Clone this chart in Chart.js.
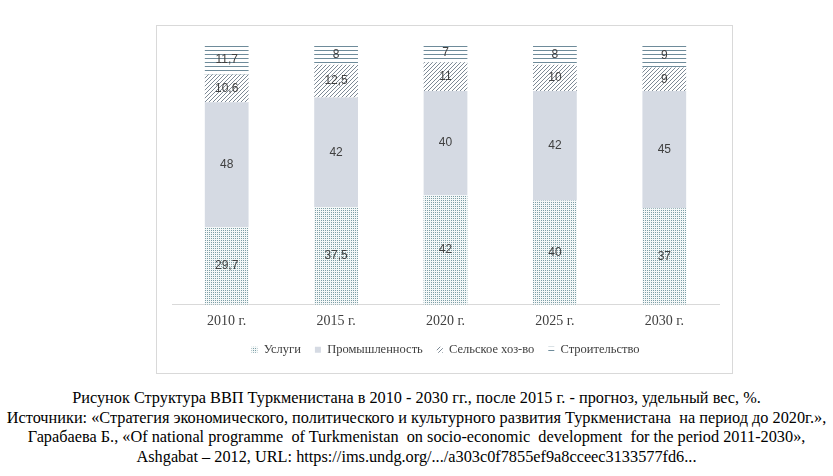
<!DOCTYPE html>
<html>
<head>
<meta charset="utf-8">
<script src="https://cdn.jsdelivr.net/npm/chart.js@4"></script>
<style>
  body { margin: 0; background: #fff; width: 833px; height: 476px; position: relative; overflow: hidden; }
  #box { position: absolute; left: 156px; top: 25px; width: 575px; height: 347px; border: 1px solid #d9d9d9; }
  #caption { position: absolute; left: 0; top: 388px; width: 833px; text-align: center;
    font-family: "Liberation Serif", "Times New Roman", serif; font-size: 16.3px; line-height: 19.5px; color: #000; }
</style>
</head>
<body>
<div id="box"><canvas id="myChart" width="575" height="347"></canvas></div>
<div id="caption">
  Рисунок Структура ВВП Туркменистана в 2010 - 2030 гг., после 2015 г. - прогноз, удельный вес, %.<br>
  Источники: «Стратегия экономического, политического и культурного развития Туркменистана&nbsp; на период до 2020г.»,<br>
  Гарабаева Б., «Of national programme&nbsp; of Turkmenistan&nbsp; on socio-economic&nbsp; development&nbsp; for the period 2011-2030»,<br>
  Ashgabat – 2012, URL: https://ims.undg.org/.../a303c0f7855ef9a8cceec3133577fd6...
</div>
<script>
// chart data
const years = ['2010 г.', '2015 г.', '2020 г.', '2025 г.', '2030 г.'];
const uslugi = [29.7, 37.5, 42, 40, 37];
const prom = [48, 42, 40, 42, 45];
const selsk = [10.6, 12.5, 11, 10, 9];
const stroit = [11.7, 8, 7, 8, 9];

// small tiles for the hatch fills
function makePattern(w, h, draw) {
  const c = document.createElement('canvas');
  c.width = w; c.height = h;
  const g = c.getContext('2d');
  draw(g);
  return g.createPattern(c, 'repeat');
}
const dots = makePattern(2, 2, g => {
  g.fillStyle = '#f4f8f8'; g.fillRect(0, 0, 2, 2);
  g.fillStyle = '#7c9ea6'; g.fillRect(0, 0, 1, 1);
});
const diag = makePattern(4, 4, g => {
  g.fillStyle = '#ffffff'; g.fillRect(0, 0, 4, 4);
  g.fillStyle = '#7d8995';
  g.fillRect(3, 0, 1, 1); g.fillRect(2, 1, 1, 1); g.fillRect(1, 2, 1, 1); g.fillRect(0, 3, 1, 1);
});
const horiz = makePattern(4, 4, g => {
  g.fillStyle = '#ffffff'; g.fillRect(0, 0, 4, 4);
  g.fillStyle = '#6e8b9a'; g.fillRect(0, 0, 4, 1);
});

// labels inside each segment
const segLabels = {
  id: 'segLabels',
  afterDatasetsDraw(chart) {
    const ctx = chart.ctx;
    ctx.save();
    ctx.font = '12px "Liberation Sans", sans-serif';
    ctx.fillStyle = '#404040';
    ctx.textAlign = 'center';
    ctx.textBaseline = 'middle';
    chart.data.datasets.forEach((ds, i) => {
      chart.getDatasetMeta(i).data.forEach((bar, j) => {
        const y = (bar.y + bar.base) / 2;
        ctx.fillText(String(ds.data[j]).replace('.', ','), bar.x, y);
      });
    });
    ctx.restore();
  }
};

const ctx = document.getElementById('myChart');
new Chart(ctx, {
  type: 'bar',
  data: {
    labels: years,
    datasets: [
      { label: 'Услуги', data: uslugi, backgroundColor: dots },
      { label: 'Промышленность', data: prom, backgroundColor: '#d5dae3' },
      { label: 'Сельское хоз-во', data: selsk, backgroundColor: diag },
      { label: 'Строительство', data: stroit, backgroundColor: horiz }
    ]
  },
  options: {
    responsive: false,
    animation: false,
    categoryPercentage: 1,
    barPercentage: 0.4,
    layout: { padding: { left: 15, right: 13, top: 18, bottom: 7 } },
    scales: {
      x: {
        stacked: true,
        grid: { display: false },
        border: { color: '#d9d9d9' },
        ticks: { color: '#404040', padding: 0, font: { family: '"Liberation Serif", serif', size: 14 } }
      },
      y: { stacked: true, display: false, min: 0, max: 100 }
    },
    plugins: {
      legend: {
        position: 'bottom',
        labels: {
          boxWidth: 6, boxHeight: 6, padding: 14, color: '#404040',
          font: { family: '"Liberation Serif", serif', size: 12.5 }
        }
      },
      tooltip: { enabled: false }
    }
  },
  plugins: [segLabels]
});
</script>
</body>
</html>
